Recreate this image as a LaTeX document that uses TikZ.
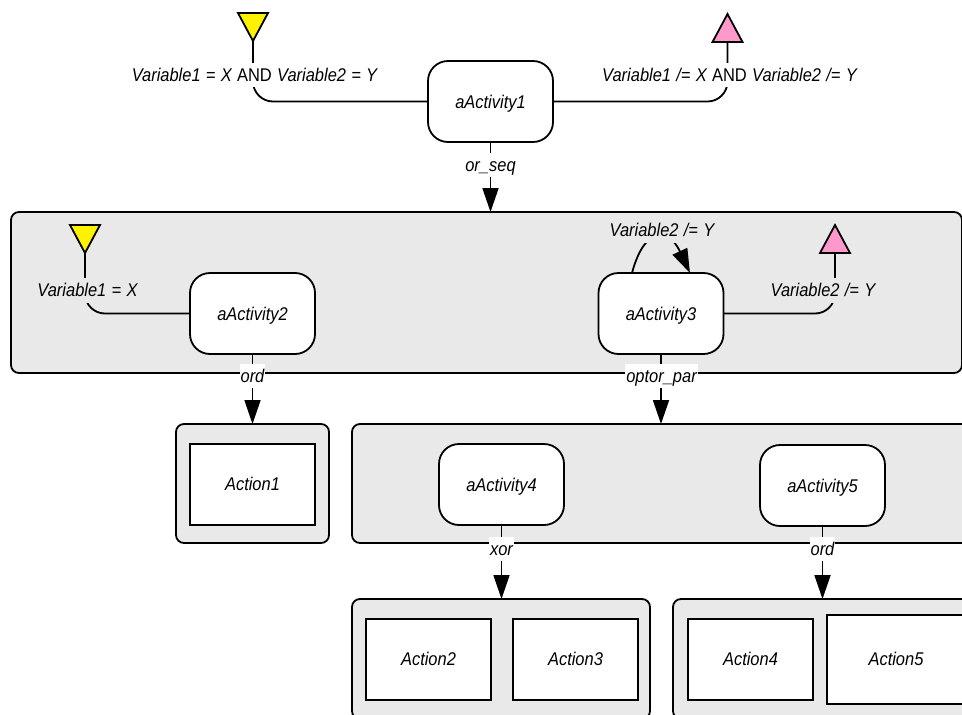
\documentclass[tikz,border=0pt]{standalone}
\usepackage{fontspec}
\setmainfont[FakeStretch=0.895,WordSpace=1.15]{Liberation Sans}
\usetikzlibrary{arrows.meta,shapes.geometric}
\definecolor{boxgray}{HTML}{E9E9E9}
\definecolor{flagpink}{HTML}{FF99CC}
\tikzset{
    every node/.style={font=\fontsize{18.4}{20}\selectfont\itshape, inner sep=0pt, outer sep=0pt},
    activity/.style={draw, line width=1.8pt, fill=white, rounded corners=20pt, minimum width=125pt, minimum height=81pt},
    activitytext/.style={text height=13pt, text depth=0pt},
    action/.style={draw, line width=1.8pt, fill=white, minimum width=125pt, minimum height=81pt, text height=13pt, text depth=2pt},
    group/.style={draw, line width=1.8pt, fill=boxgray, rounded corners=8pt},
    flag/.style={draw, line width=1.8pt, isosceles triangle, isosceles triangle stretches, anchor=apex, minimum width=30pt, minimum height=28pt},
    startflag/.style={flag, fill=yellow, shape border rotate=270},
    endflag/.style={flag, fill=flagpink, shape border rotate=90},
    link/.style={line width=1.8pt, rounded corners=20pt},
    arrowlink/.style={line width=1.8pt, -{Triangle[length=24pt,width=16pt]}},
    whitelabel/.style={fill=white, minimum height=24pt, inner xsep=1pt, text height=13pt, text depth=0pt},
    graylabel/.style={fill=boxgray, minimum height=25pt, inner xsep=1pt, text height=13pt, text depth=0pt}
}
\begin{document}
\begin{tikzpicture}[x=1pt, y=-1pt]
    \useasboundingbox (0, 0) rectangle (962, 715);
    \clip (0, 0) rectangle (962, 715);

    \node[group, minimum width=951pt, minimum height=161pt] (seqGroup) at (486.5, 292.5) {};
    \node[group, minimum width=153pt, minimum height=119pt] (ordGroup) at (252.5, 483.5) {};
    \node[group, minimum width=640pt, minimum height=119pt] (parGroup) at (672, 483.5) {};
    \node[group, minimum width=298pt, minimum height=120pt] (xorGroup) at (501, 659) {};
    \node[group, minimum width=340pt, minimum height=120pt] (lastGroup) at (843, 659) {};

    \node[activity] (aActivity1) at (490.5, 101.5) {};
    \node[activity] (aActivity2) at (252.5, 313.5) {};
    \node[activity] (aActivity3) at (661, 313.5) {};
    \node[activity] (aActivity4) at (501.5, 484.5) {};
    \node[activity] (aActivity5) at (822.5, 485.5) {};

    \node[startflag] (startTop) at (253, 41) {};
    \node[endflag] (endTop) at (727.5, 14) {};
    \node[startflag] (startSeq) at (85, 253) {};
    \node[endflag] (endSeq) at (835, 225) {};

    \draw[link] (startTop.apex) |- (aActivity1.west);
    \draw[link] (endTop.south) |- (aActivity1.east);
    \draw[link] (startSeq.apex) |- (aActivity2.west);
    \draw[link] (endSeq.south) |- (aActivity3.east);
    \draw[arrowlink] ([xshift=-29pt]aActivity3.north) to[out=75, in=115, looseness=2.2] ([xshift=29pt]aActivity3.north);

    \draw[arrowlink] (aActivity1.south) -- (aActivity1.south |- seqGroup.north);
    \draw[arrowlink] (aActivity2.south) -- (aActivity2.south |- ordGroup.north);
    \draw[arrowlink] (aActivity3.south) -- (aActivity3.south |- parGroup.north);
    \draw[arrowlink] (aActivity4.south) -- (aActivity4.south |- xorGroup.north);
    \draw[arrowlink] (aActivity5.south) -- (aActivity5.south |- lastGroup.north);

    \node[whitelabel] (labelTopStart) at (254.5, 74.5) {Variable1 = X {\upshape AND} Variable2 = Y};
    \node[whitelabel] (labelTopEnd) at (729.5, 74.5) {Variable1 /= X {\upshape AND} Variable2 /= Y};
    \node[whitelabel] (labelSeq) at (490.5, 165) {or\_seq};
    \node[graylabel] (labelSeqStart) at (87.5, 290) {Variable1 = X};
    \node[graylabel] (labelSeqEnd) at (823, 290) {Variable2 /= Y};
    \node[graylabel] (labelLoop) at (662, 230) {Variable2 /= Y};
    \node[whitelabel] (labelOrd) at (252.5, 376) {ord};
    \node[whitelabel] (labelPar) at (661.5, 376) {optor\_par};
    \node[whitelabel] (labelXor) at (501.5, 549) {xor};
    \node[whitelabel] (labelLast) at (822.5, 549) {ord};

    \node[activitytext] at (aActivity1) {aActivity1};
    \node[activitytext] at (aActivity2) {aActivity2};
    \node[activitytext] at (aActivity3) {aActivity3};
    \node[activitytext] at (aActivity4) {aActivity4};
    \node[activitytext] at (aActivity5) {aActivity5};

    \node[action] (action1) at (252.5, 484.5) {Action1};
    \node[action] (action2) at (428.5, 659.5) {Action2};
    \node[action] (action3) at (575.5, 659.5) {Action3};
    \node[action] (action4) at (750.5, 659.5) {Action4};
    \node[action, minimum width=138pt, minimum height=89pt] (action5) at (896, 659.5) {Action5};
\end{tikzpicture}
\end{document}
